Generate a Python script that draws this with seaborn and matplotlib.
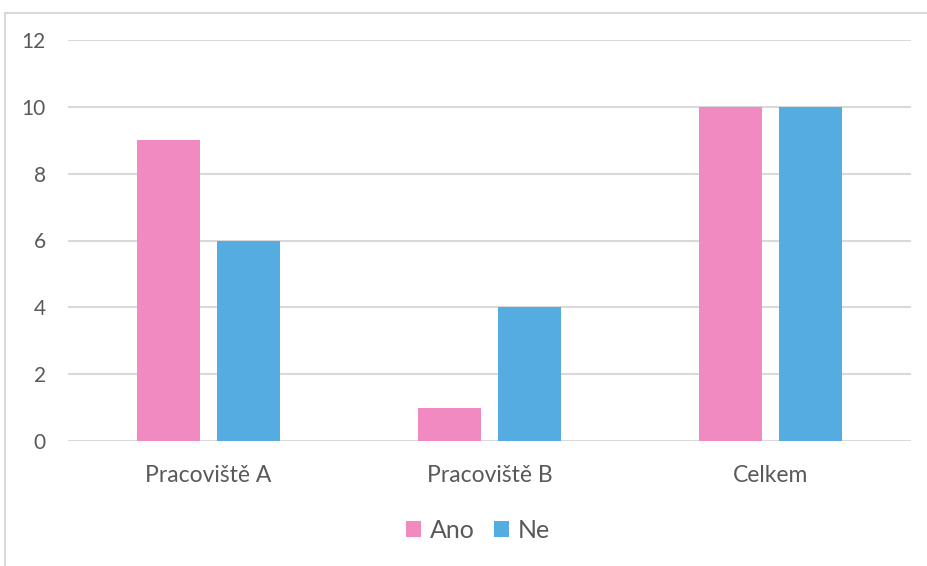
import matplotlib
matplotlib.use("Agg")
import matplotlib.pyplot as plt
from matplotlib.patches import Rectangle, Patch
import seaborn as sns
import pandas as pd

categories = ["Pracoviště A", "Pracoviště B", "Celkem"]
series_names = ["Ano", "Ne"]
ano_values = [9, 1, 10]
ne_values = [6, 4, 10]
y_ticks = [0, 2, 4, 6, 8, 10, 12]

colors = {"Ano": "#F08AC0", "Ne": "#54ACE0"}
text_color = "#595959"
grid_color = "#D9D9D9"

df = pd.DataFrame({
    "kategorie": categories * 2,
    "odpoved": [series_names[0]] * len(categories) + [series_names[1]] * len(categories),
    "pocet": ano_values + ne_values,
})

sns.set_style("white")
plt.rcParams["font.family"] = ["Lato", "DejaVu Sans"]

fig = plt.figure(figsize=(9.28, 5.66), dpi=100)
ax = fig.add_axes([68 / 928, 1 - 441 / 566, (911 - 68) / 928, (441 - 40) / 566])

sns.barplot(data=df, x="kategorie", y="pocet", hue="odpoved",
            palette=colors, width=0.57, gap=0.21, ax=ax,
            saturation=1, linewidth=0, legend=False, zorder=3)

ax.set_ylim(0, 12)
ax.set_xlim(-0.5, 2.5)
ax.set_yticks(y_ticks)
ax.set_yticklabels([str(t) for t in y_ticks])
ax.yaxis.grid(True, color=grid_color, linewidth=1.5, zorder=0)
ax.set_axisbelow(True)
for s in ax.spines.values():
    s.set_visible(False)
ax.tick_params(axis="both", length=0, colors=text_color)
ax.tick_params(axis="y", pad=16, labelsize=15)
ax.tick_params(axis="x", pad=17, labelsize=16.5)
ax.set_xlabel("")
ax.set_ylabel("")

handles = [Patch(facecolor=colors[n], edgecolor="none", label=n) for n in series_names]
fig.legend(handles=handles, loc="center", bbox_to_anchor=(478 / 928, 1 - 530 / 566),
           ncol=2, frameon=False, fontsize=18, labelcolor=text_color,
           handlelength=0.6, handleheight=0.6, handletextpad=0.32, columnspacing=0.8)

# outer chart frame
fig.patches.append(Rectangle((5.5 / 928, -0.1), 1.2, 1 - 12.5 / 566 + 0.1,
                             transform=fig.transFigure, fill=False,
                             edgecolor=grid_color, linewidth=1.5))

fig.savefig("out.png", dpi=100)
